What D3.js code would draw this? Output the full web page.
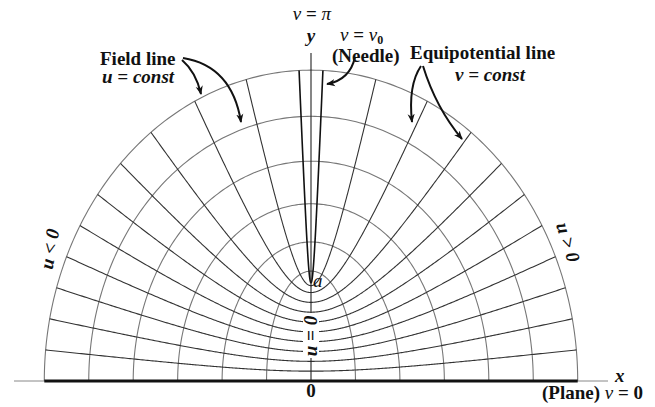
<!DOCTYPE html>
<html><head><meta charset="utf-8">
<script src="https://cdn.jsdelivr.net/npm/d3@7"></script>
<style>
body{margin:0;background:#fff}
text{font-family:"Liberation Serif","Times New Roman",serif;font-size:19px;font-weight:bold;fill:#111}
</style></head><body>
<svg id="chart" width="655" height="407"></svg>
<script>
// field lines u = const : where each ellipse meets the plane, sinh(u)
const fieldSinh = [0.5, 1, 1.5, 2, 2.5, 3];
// equipotentials v = const : vertex height on the axis, cos(v), in units of a
const potentialCos = [0.1, 0.2, 0.3, 0.4, 0.5, 0.6, 0.7, 0.8, 0.9, 0.97];
// the needle v = v0
const needleCos = 0.999;

const svg = d3.select("#chart");
const x = d3.scaleLinear().domain([-3, 3]).range([44.3, 577.7]);
const y = d3.scaleLinear().domain([0, 1]).range([381, 282.7]);
const line = d3.line().x(d => x(d[0])).y(d => y(d[1]));

const U = Math.asinh(d3.max(fieldSinh));

function ellipse(s) {
  const c = Math.sqrt(1 + s * s);
  return d3.range(201).map(i => {
    const t = -Math.PI / 2 + Math.PI * i / 200;
    return [s * Math.sin(t), c * Math.cos(t)];
  });
}
function hyperbola(c) {
  const sn = Math.sqrt(1 - c * c);
  return d3.range(401).map(i => {
    const u = -U + 2 * U * i / 400;
    return [Math.sinh(u) * sn, Math.cosh(u) * c];
  });
}

// arrow head
svg.append("defs").append("marker")
    .attr("id", "head")
    .attr("viewBox", "0 0 10 10")
    .attr("refX", 9).attr("refY", 5)
    .attr("markerWidth", 9).attr("markerHeight", 9)
    .attr("markerUnits", "userSpaceOnUse")
    .attr("orient", "auto")
  .append("path")
    .attr("d", "M0,1 L10,5 L0,9 L3,5 Z")
    .attr("fill", "#111");

// field lines (ellipses)
svg.selectAll(".field")
    .data(fieldSinh)
    .enter().append("path")
    .attr("class", "field")
    .attr("d", d => line(ellipse(d)))
    .attr("fill", "none")
    .attr("stroke", "#777")
    .attr("stroke-width", 1.1);

// equipotential lines (hyperbolas)
svg.selectAll(".pot")
    .data(potentialCos)
    .enter().append("path")
    .attr("class", "pot")
    .attr("d", d => line(hyperbola(d)))
    .attr("fill", "none")
    .attr("stroke", "#333")
    .attr("stroke-width", 1.1);

// needle
svg.append("path")
    .attr("d", line(hyperbola(needleCos)))
    .attr("fill", "none")
    .attr("stroke", "#111")
    .attr("stroke-width", 1.6);

// axes
svg.append("line")
    .attr("x1", x(0)).attr("x2", x(0))
    .attr("y1", y(0)).attr("y2", 53)
    .attr("stroke", "#222").attr("stroke-width", 1.1);
svg.append("line")
    .attr("x1", 14).attr("x2", 608)
    .attr("y1", y(0)).attr("y2", y(0))
    .attr("stroke", "#888").attr("stroke-width", 1);
svg.append("line")
    .attr("x1", x(-3)).attr("x2", x(3))
    .attr("y1", y(0)).attr("y2", y(0))
    .attr("stroke", "#111").attr("stroke-width", 3);

// u = 0 on the axis
svg.append("rect")
    .attr("x", x(0) - 8).attr("y", 313)
    .attr("width", 16).attr("height", 45)
    .attr("fill", "#fff");
svg.append("text")
    .attr("transform", `translate(${x(0) + 6},336) rotate(-90)`)
    .attr("text-anchor", "middle")
    .attr("font-style", "italic")
    .text("u = 0");

// arrows
const arrows = [
  "M182,60 Q196,72 201,94",
  "M183,58 Q232,66 241,122",
  "M421,66 Q408,85 412,122",
  "M423,66 Q436,108 462,139",
  "M355,57 Q350,80 327,84"
];
svg.selectAll(".arrow")
    .data(arrows)
    .enter().append("path")
    .attr("class", "arrow")
    .attr("d", d => d)
    .attr("fill", "none")
    .attr("stroke", "#111")
    .attr("stroke-width", 2)
    .attr("marker-end", "url(#head)");

// labels
function label(px, py, parts, anchor) {
  const t = svg.append("text").attr("x", px).attr("y", py)
      .attr("text-anchor", anchor || "start");
  parts.forEach(p => {
    const s = t.append("tspan").text(p.t);
    if (p.i) s.attr("font-style", "italic");
    if (p.n) s.attr("font-weight", "normal");
    if (p.sub) s.attr("font-size", 12).attr("dy", 3);
  });
  return t;
}

label(100, 65, [{t: "Field line"}]);
label(102, 83, [{t: "u = const", i: true}]);
label(410, 59, [{t: "Equipotential line"}]);
label(455, 81, [{t: "v = const", i: true}]);
label(312, 20, [{t: "v", i: true, n: true}, {t: " = "}, {t: "π", i: true, n: true}], "middle");
label(311, 42, [{t: "y", i: true}], "middle").attr("font-size", 21);
label(340, 41, [{t: "v", i: true, n: true}, {t: " = "}, {t: "v", i: true, n: true}, {t: "0", sub: true}]);
label(332, 62, [{t: "(Needle)"}]);
label(313, 287, [{t: "a", i: true, n: true}]);
label(x(0), 397, [{t: "0"}], "middle");
label(615, 382, [{t: "x", i: true}]).attr("font-size", 20);
label(542, 399, [{t: "(Plane) "}, {t: "v", i: true, n: true}, {t: " = 0"}]);

svg.append("text")
    .attr("transform", "translate(56,250) rotate(-80)")
    .attr("text-anchor", "middle")
    .attr("font-style", "italic")
    .text("u < 0");
svg.append("text")
    .attr("transform", "translate(562,244) rotate(73)")
    .attr("text-anchor", "middle")
    .attr("font-style", "italic")
    .text("u > 0");
</script>
</body></html>
